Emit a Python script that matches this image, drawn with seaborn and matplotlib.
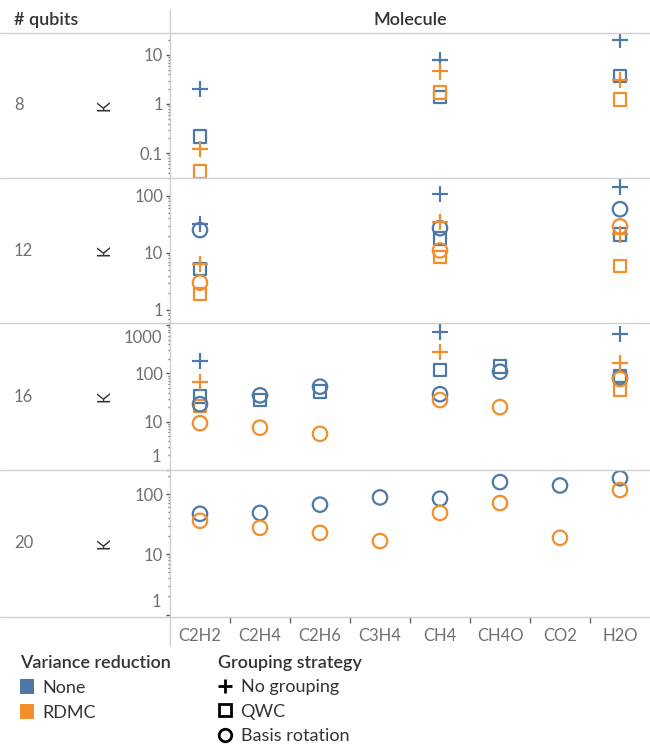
import numpy as np
import pandas as pd
import matplotlib
matplotlib.use("Agg")
import matplotlib.pyplot as plt
from matplotlib.lines import Line2D
from matplotlib.patches import Patch
from matplotlib.ticker import LogLocator, FixedLocator, NullFormatter, FixedFormatter
import seaborn as sns

nan = np.nan

MOLECULES = ["C2H2", "C2H4", "C2H6", "C3H4", "CH4", "CH4O", "CO2", "H2O"]
QUBITS = [8, 12, 16, 20]
VARIANCE = ["None", "RDMC"]
GROUPING = ["No grouping", "QWC", "Basis rotation"]

# K per molecule, in the order of MOLECULES (nan = not computed)
K8_NONE_NOGROUP = [2.0, nan, nan, nan, 7.9, nan, nan, 20.0]
K8_RDMC_NOGROUP = [0.12, nan, nan, nan, 4.6, nan, nan, 3.1]
K8_NONE_QWC = [0.22, nan, nan, nan, 1.38, nan, nan, 3.7]
K8_RDMC_QWC = [0.042, nan, nan, nan, 1.7, nan, nan, 1.25]

K12_NONE_NOGROUP = [32, nan, nan, nan, 106, nan, nan, 144]
K12_RDMC_NOGROUP = [6.3, nan, nan, nan, 35, nan, nan, 21]
K12_NONE_QWC = [5.2, nan, nan, nan, 18, nan, nan, 21]
K12_RDMC_QWC = [1.9, nan, nan, nan, 8.5, nan, nan, 5.9]
K12_NONE_BASIS = [25, nan, nan, nan, 27, nan, nan, 58]
K12_RDMC_BASIS = [3.0, nan, nan, nan, 11, nan, nan, 29]

K16_NONE_NOGROUP = [182, nan, nan, nan, 720, nan, nan, 650]
K16_RDMC_NOGROUP = [67, nan, nan, nan, 280, nan, nan, 165]
K16_NONE_QWC = [33, 28, 42, nan, 117, 137, nan, 88]
K16_RDMC_QWC = [21, nan, nan, nan, nan, nan, nan, 45]
K16_NONE_BASIS = [23, 35, 53, nan, 37, 108, nan, 82]
K16_RDMC_BASIS = [9.3, 7.5, 5.6, nan, 28, 20, nan, 76]

K20_NONE_BASIS = [47, 48.6, 66.7, 88, 84, 158, 139, 183]
K20_RDMC_BASIS = [36, 27.5, 22.7, 16.6, 48.6, 71, 18.8, 117]

SERIES = [
    (8, "None", "No grouping", K8_NONE_NOGROUP),
    (8, "RDMC", "No grouping", K8_RDMC_NOGROUP),
    (8, "None", "QWC", K8_NONE_QWC),
    (8, "RDMC", "QWC", K8_RDMC_QWC),
    (12, "None", "No grouping", K12_NONE_NOGROUP),
    (12, "RDMC", "No grouping", K12_RDMC_NOGROUP),
    (12, "None", "QWC", K12_NONE_QWC),
    (12, "RDMC", "QWC", K12_RDMC_QWC),
    (12, "None", "Basis rotation", K12_NONE_BASIS),
    (12, "RDMC", "Basis rotation", K12_RDMC_BASIS),
    (16, "None", "No grouping", K16_NONE_NOGROUP),
    (16, "RDMC", "No grouping", K16_RDMC_NOGROUP),
    (16, "None", "QWC", K16_NONE_QWC),
    (16, "RDMC", "QWC", K16_RDMC_QWC),
    (16, "None", "Basis rotation", K16_NONE_BASIS),
    (16, "RDMC", "Basis rotation", K16_RDMC_BASIS),
    (20, "None", "Basis rotation", K20_NONE_BASIS),
    (20, "RDMC", "Basis rotation", K20_RDMC_BASIS),
]

rows = []
for q, var, grp, vals in SERIES:
    for mol, k in zip(MOLECULES, vals):
        if not np.isnan(k):
            rows.append({"qubits": q, "Variance": var, "Grouping": grp,
                         "Molecule": mol, "K": k})
df = pd.DataFrame(rows)
df["Molecule"] = pd.Categorical(df["Molecule"], categories=MOLECULES)

# ---- styling -------------------------------------------------------------
sns.set_theme(style="white")
plt.rcParams["font.family"] = ["Lato", "DejaVu Sans"]

PALETTE = {"None": "#4E79A7", "RDMC": "#F28E2B"}
MARKERS = {"No grouping": "+", "QWC": "s", "Basis rotation": "o"}
SIZES = {"No grouping": 140, "QWC": 82, "Basis rotation": 108}
DARK = "#333333"
GREY_TXT = "#707070"
RULE = "#d0d0d0"
TICK_FS = 12
LEGEND_FS = 13

W, H = 650, 746
fig = plt.figure(figsize=(W / 100, H / 100), dpi=100)


def fx(px):
    return px / W


def fy(py):
    return 1 - py / H


PANE_L, PANE_R = 170, 650
ROW_EDGES = [33, 178, 323, 470, 617]
Y_LIMITS = {8: (0.031, 28), 12: (0.59, 204), 16: (1.0, 1100), 20: (0.91, 251)}
DECADES = [0.1, 1, 10, 100, 1000]


def hline(y, x0=0, x1=W):
    fig.add_artist(Line2D([fx(x0), fx(x1)], [fy(y), fy(y)],
                          transform=fig.transFigure, color=RULE, lw=1))


axes = []
for i, q in enumerate(QUBITS):
    top, bot = ROW_EDGES[i], ROW_EDGES[i + 1]
    ax = fig.add_axes([fx(PANE_L), fy(bot), fx(PANE_R - PANE_L), (bot - top) / H])
    axes.append(ax)
    sub = df[df["qubits"] == q]
    for grp in ["QWC", "Basis rotation", "No grouping"]:
        part = sub[sub["Grouping"] == grp]
        if part.empty:
            continue
        sns.scatterplot(data=part, x="Molecule", y="K", hue="Variance",
                        hue_order=VARIANCE, palette=PALETTE,
                        marker=MARKERS[grp], s=SIZES[grp], linewidth=1.6,
                        legend=False, ax=ax, zorder=3)
        if grp != "No grouping":
            coll = ax.collections[-1]
            fc = coll.get_facecolors()
            coll.set_edgecolors(fc)
            coll.set_facecolors("none")

    ax.set_yscale("log")
    lo, hi = Y_LIMITS[q]
    ax.set_ylim(lo, hi)
    ax.set_xlim(-0.5, len(MOLECULES) - 0.5)
    for s in ax.spines.values():
        s.set_visible(False)

    # y ticks: decades inside the range, labels kept inside the pane
    dec = [d for d in DECADES if lo <= d * 1.0001 and d <= hi * 1.0001]
    ax.yaxis.set_major_locator(FixedLocator(dec))
    ax.yaxis.set_minor_locator(LogLocator(base=10, subs=np.arange(2, 10)))
    ax.yaxis.set_minor_formatter(NullFormatter())
    lab = []
    for d in dec:
        frac = (np.log10(d) - np.log10(lo)) / (np.log10(hi) - np.log10(lo))
        txt = f"{d:g}"
        if frac > 0.93 or frac < 0.07:
            lab.append("")
            off = -9 if frac > 0.5 else 9
            ax.annotate(txt, xy=(0, d), xycoords=("axes fraction", "data"),
                        xytext=(-6, off), textcoords="offset points",
                        ha="right", va="center", fontsize=TICK_FS,
                        color=GREY_TXT)
        else:
            lab.append(txt)
    ax.yaxis.set_major_formatter(FixedFormatter(lab))
    ax.tick_params(axis="y", which="major", left=True, length=3, width=1,
                   color="#555555", labelsize=TICK_FS, labelcolor=GREY_TXT,
                   pad=2)
    ax.tick_params(axis="y", which="minor", left=True, length=1.5, width=1,
                   color="#777777")
    ax.set_ylabel("K", color=DARK, fontsize=12)
    ax.yaxis.set_label_coords(-0.12, 0.5)
    ax.set_xlabel("")

    if i == len(QUBITS) - 1:
        ax.set_xticks(range(len(MOLECULES)))
        ax.set_xticklabels(MOLECULES)
        ax.set_xticks(np.arange(0.5, len(MOLECULES) - 1, 1), minor=True)
        ax.tick_params(axis="x", which="major", bottom=False,
                       labelsize=TICK_FS, labelcolor=GREY_TXT, pad=2)
        ax.tick_params(axis="x", which="minor", bottom=True, length=4,
                       width=1, color="#666666")
    else:
        ax.tick_params(axis="x", which="both", bottom=False, labelbottom=False)

    fig.text(fx(14), fy((top + bot) / 2), str(q), ha="left", va="center",
             fontsize=TICK_FS, color=GREY_TXT)

# rules and headers
for y in ROW_EDGES:
    hline(y)
fig.add_artist(Line2D([fx(PANE_L), fx(PANE_L)], [fy(10), fy(645)],
                      transform=fig.transFigure, color=RULE, lw=1))
fig.text(fx(14), fy(20), "# qubits", ha="left", va="center", fontsize=13,
         color=DARK, fontweight="semibold")
fig.text(fx((PANE_L + PANE_R) / 2), fy(20), "Molecule", ha="center",
         va="center", fontsize=13, color=DARK, fontweight="semibold")

# legends
var_handles = [Patch(facecolor=PALETTE[v], edgecolor="none") for v in VARIANCE]
leg1 = fig.legend(var_handles, VARIANCE, title="Variance reduction",
                  loc="upper left", bbox_to_anchor=(fx(20), fy(655)),
                  frameon=False, fontsize=LEGEND_FS, title_fontsize=LEGEND_FS,
                  alignment="left", handlelength=0.75, handleheight=0.9,
                  handletextpad=0.5, labelspacing=0.46, borderaxespad=0,
                  borderpad=0)
leg1.get_title().set_fontweight("semibold")
for t in leg1.get_texts():
    t.set_color(DARK)
leg1.get_title().set_color(DARK)

grp_handles = [Line2D([], [], linestyle="none", marker=MARKERS[g],
                      markersize=9 if g != "No grouping" else 10,
                      markerfacecolor="none", markeredgecolor="black",
                      markeredgewidth=2) for g in GROUPING]
leg2 = fig.legend(grp_handles, GROUPING, title="Grouping strategy",
                  loc="upper left", bbox_to_anchor=(fx(218), fy(655)),
                  frameon=False, fontsize=LEGEND_FS, title_fontsize=LEGEND_FS,
                  alignment="left", handlelength=0.75, handletextpad=0.5,
                  labelspacing=0.46, borderaxespad=0, borderpad=0)
leg2.get_title().set_fontweight("semibold")
for t in leg2.get_texts():
    t.set_color(DARK)
leg2.get_title().set_color(DARK)

fig.savefig("out.png", dpi=100)
